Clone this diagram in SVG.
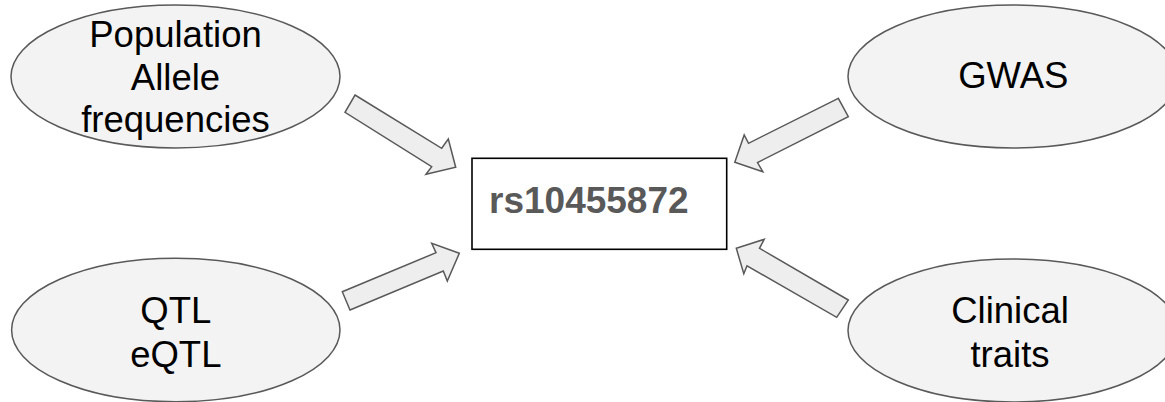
<svg xmlns="http://www.w3.org/2000/svg" width="1165" height="402" viewBox="0 0 1165 402">
<style>
.bg{fill:#ffffff}
.ell{fill:#f3f3f3;stroke:#595959;stroke-width:1.5}
.arr{fill:#eeeeee;stroke:#595959;stroke-width:1.5;stroke-linejoin:miter}
.box{fill:#ffffff;stroke:#000000;stroke-width:1.6}
.lbl{font-family:"Liberation Sans",Arial,sans-serif;font-size:36.5px;fill:#000000;text-anchor:middle}
.id{font-family:"Liberation Sans",Arial,sans-serif;font-size:37px;font-weight:bold;fill:#595959}
</style>
<rect class="bg" x="0" y="0" width="1165" height="402"/>
<g id="connectors">
<polygon class="arr" points="355,95 441.7,148.3 448.3,139 455.7,167.3 426,174.3 431.7,166.7 345,112.3"/>
<polygon class="arr" points="350,310 443.3,271 447.3,281 459.3,253.3 431.7,243.3 436,252.7 342.3,291.7"/>
<polygon class="arr" points="838.3,98.3 748.5,143.3 744.2,135 734.8,162.2 762.8,171.7 757.5,162.5 848.3,116.7"/>
<polygon class="arr" points="848.3,300 759.5,248.3 764.2,239.3 736.3,248.3 743.8,273.8 747,265.8 836.7,317.3"/>
</g>
<g id="node-population">
<ellipse class="ell" cx="175.5" cy="76.5" rx="164.5" ry="71.5"/>
<text class="lbl" x="175.5" y="46.7">Population</text>
<text class="lbl" x="175.5" y="90">Allele</text>
<text class="lbl" x="175.5" y="131.7">frequencies</text>
</g>
<g id="node-qtl">
<ellipse class="ell" cx="175.8" cy="330" rx="164.2" ry="71.7"/>
<text class="lbl" x="175.8" y="322.7">QTL</text>
<text class="lbl" x="175.8" y="366.7">eQTL</text>
</g>
<g id="node-gwas">
<ellipse class="ell" cx="1013" cy="76.5" rx="165" ry="71.5"/>
<text class="lbl" x="1013.3" y="88.3">GWAS</text>
</g>
<g id="node-clinical">
<ellipse class="ell" cx="1013" cy="330.5" rx="165" ry="71.5"/>
<text class="lbl" x="1010" y="323.3">Clinical</text>
<text class="lbl" x="1010" y="366.7">traits</text>
</g>
<g id="node-snp">
<rect class="box" x="472" y="158.3" width="254.7" height="91"/>
<text class="id" x="489" y="212.7">rs10455872</text>
</g>
</svg>
